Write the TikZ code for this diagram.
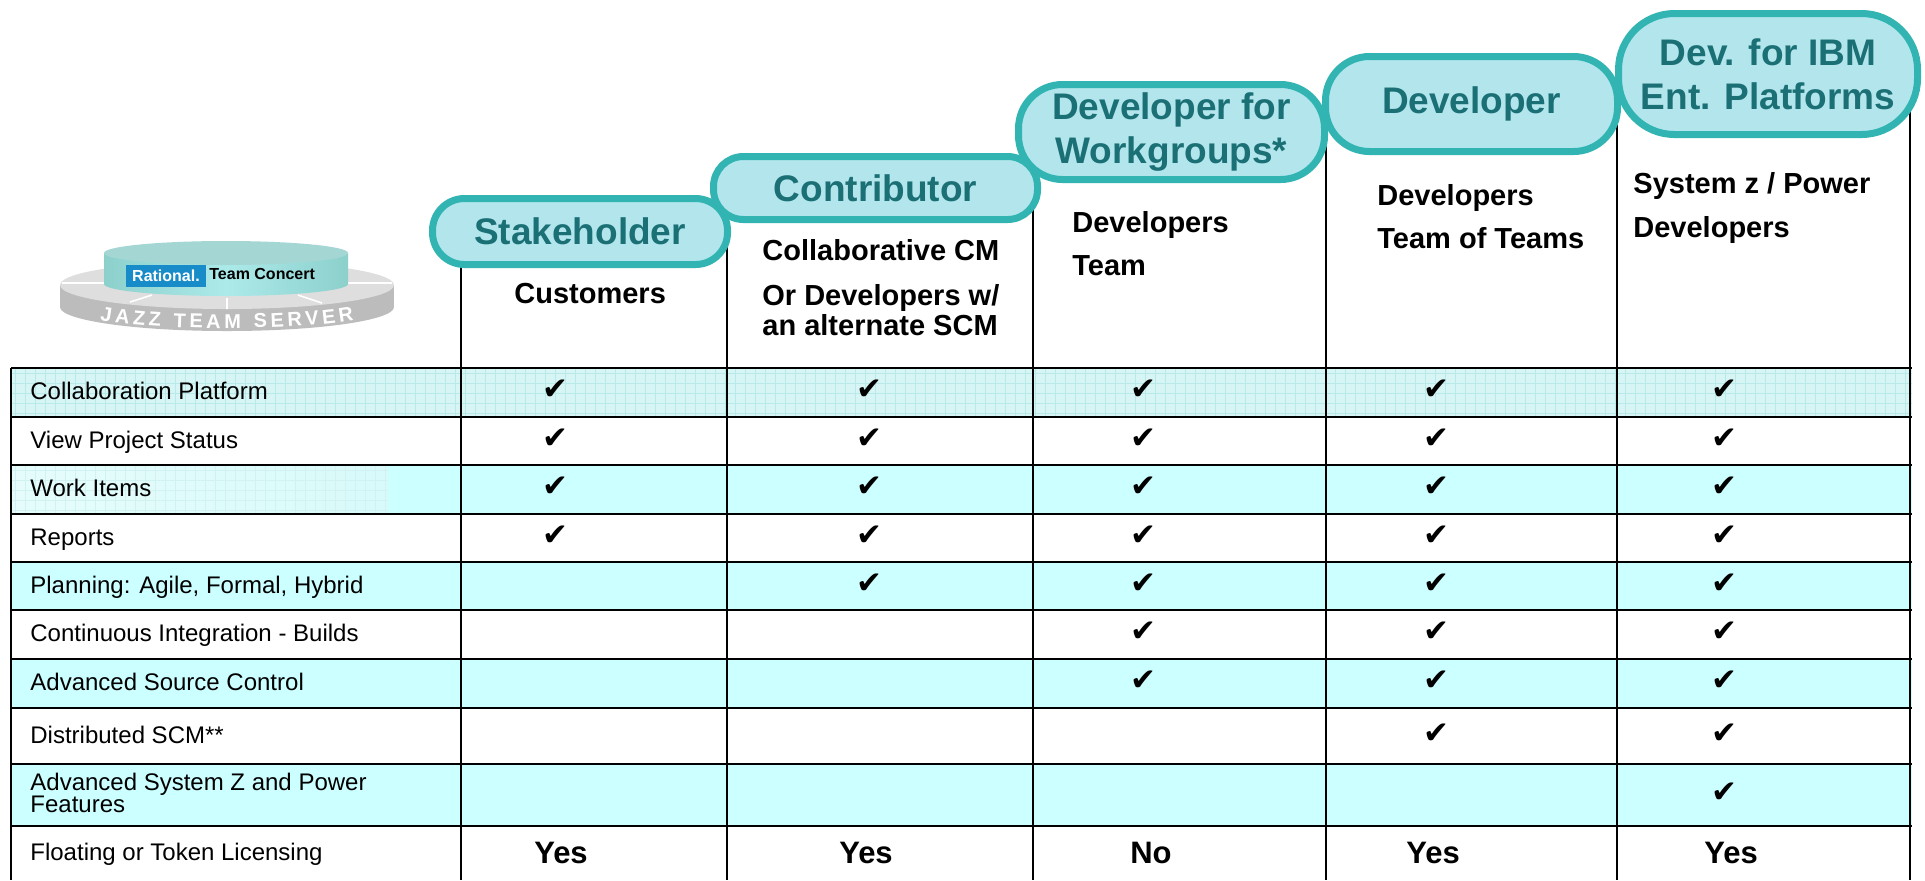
\documentclass[tikz,border=0pt]{standalone}
\usepackage{fontspec}
\setmainfont{Liberation Sans}
\newfontfamily\symfont{DejaVu Sans}
\usetikzlibrary{decorations.text}

\definecolor{rowcyan}{RGB}{204,255,255}
\definecolor{gridbase}{RGB}{216,245,245}
\definecolor{gridline}{RGB}{184,234,234}
\definecolor{workleft}{RGB}{230,252,252}
\definecolor{workright}{RGB}{216,250,250}
\definecolor{workgrid}{RGB}{210,242,242}
\definecolor{bubblefill}{RGB}{178,230,236}
\definecolor{bubbleline}{RGB}{50,180,178}
\definecolor{bubbletext}{RGB}{27,112,118}
\definecolor{disktop}{RGB}{222,222,222}
\definecolor{diskside}{RGB}{188,188,188}
\definecolor{cylside}{RGB}{140,208,204}
\definecolor{cylmid}{RGB}{172,234,234}
\definecolor{cyltop}{RGB}{164,214,212}
\definecolor{rationalblue}{RGB}{24,140,200}

\begin{document}
\begin{tikzpicture}[
  x=0.5pt, y=-0.5pt,
  bubble/.style={
    draw=bubbleline, line width=3.5pt, fill=bubblefill,
    text=bubbletext, font=\fontsize{18.5}{22}\selectfont\bfseries,
    align=center, inner sep=0pt
  },
  sub/.style={
    anchor=base west, inner sep=0pt,
    font=\fontsize{14.5}{17}\selectfont\bfseries
  },
  rowlabel/.style={
    anchor=base west, inner sep=0pt,
    font=\fontsize{12}{11}\selectfont
  },
  tick/.style={inner sep=0pt, font=\symfont\fontsize{15.5}{15.5}\selectfont},
  answer/.style={
    anchor=base, inner sep=0pt,
    font=\fontsize{15.5}{18}\selectfont\bfseries
  },
  rule/.style={line width=1.4pt}
  ]
  \useasboundingbox (0,0) rectangle (1925,880);
  \fill[white] (0,0) rectangle (1925,880);

  % logo
  \fill[diskside] (227,307) ellipse [x radius=167, y radius=24];
  \fill[diskside] (60,285) rectangle (394,307);
  \fill[disktop] (227,285) ellipse [x radius=167, y radius=24];
  \draw[white, line width=0.8pt] (62,283) -- (104,283) (348,283) -- (392,283)
    (130,302) -- (152,295) (227,298) -- (227,309) (298,295) -- (322,303);
  \begin{scope}[color=white]
    \path[decorate, decoration={text along path, text align=fit to path,
      text={|\fontsize{10}{10}\selectfont\bfseries\color{white}|JAZZ TEAM SERVER}}]
      (100,320) .. controls (165,331) and (290,331) .. (354,320);
  \end{scope}
  \shade[left color=cylside, right color=cylside, middle color=cylmid]
    (104,253) -- (104,284) arc[start angle=180, end angle=0, x radius=122, y radius=12]
    -- (348,253) -- cycle;
  \fill[cyltop] (226,253) ellipse [x radius=122, y radius=12];
  \node[fill=rationalblue, text=white, font=\fontsize{8}{8}\selectfont\bfseries,
    minimum width=40pt, minimum height=11pt, inner sep=0pt] (rational) at (166,276) {Rational.};
  \node[anchor=base west, inner sep=0pt, font=\fontsize{8}{8}\selectfont\bfseries]
    (rtc) at (209,279) {Team Concert};

  % rows
  \fill[gridbase] (11,368) rectangle (1912,417);
  \foreach \gx in {15,25,...,1905}
    \draw[gridline, line width=0.5pt] (\gx,368) -- (\gx,417);
  \foreach \gy in {373,383,...,413}
    \draw[gridline, line width=0.5pt] (11,\gy) -- (1912,\gy);
  \foreach \ya/\yb in {465/514, 562/610, 659/708, 764/826}
    \fill[rowcyan] (11,\ya) rectangle (1912,\yb);
  \shade[left color=workleft, right color=workright] (11,465) rectangle (388,514);
  \foreach \gx in {15,25,...,385}
    \draw[workgrid, line width=0.4pt] (\gx,465) -- (\gx,514);
  \foreach \gy in {470,480,...,510}
    \draw[workgrid, line width=0.4pt] (11,\gy) -- (388,\gy);

  \foreach \y in {368,417,465,514,562,610,659,708,764,826}
    \draw[rule] (11,\y) -- (1912,\y);
  \foreach \x/\top in {11/368, 461/240, 727/200, 1033/150, 1326/110, 1617/90, 1910/60}
    \draw[rule] (\x,\top) -- (\x,880);

  % headers
  \node[bubble, minimum width=147.5pt, minimum height=33pt, rounded corners=16pt]
    (stake) at (580,231.5) {Stakeholder};
  \node[bubble, minimum width=162pt, minimum height=31.5pt, rounded corners=15pt]
    (contrib) at (875.5,188) {Contributor};
  \node[bubble, minimum width=153pt, minimum height=47.5pt, rounded corners=22pt]
    (devwg) at (1171.5,132) {Developer for\\Workgroups*};
  \node[bubble, minimum width=146pt, minimum height=47.5pt, rounded corners=22pt]
    (dev) at (1471.5,104) {Developer};
  \node[bubble, minimum width=149.5pt, minimum height=60.5pt, rounded corners=28pt]
    (ibm) at (1768,74) {Dev. for IBM\\Ent. Platforms};

  \node[sub] (cust) at (514,303) {Customers};
  \node[sub] (contriba) at (762,260) {Collaborative CM};
  \node[sub] (contribb) at (762,305) {Or Developers w/};
  \node[sub] (contribc) at (762,335) {an alternate SCM};
  \node[sub] (devwga) at (1072,232) {Developers};
  \node[sub] (devwgb) at (1072,275) {Team};
  \node[sub] (deva) at (1377,205) {Developers};
  \node[sub] (devb) at (1377,248) {Team of Teams};
  \node[sub] (ibma) at (1633,193) {System z / Power};
  \node[sub] (ibmb) at (1633,237) {Developers};

  % features
  \foreach \by/\txt [count=\r] in {399.5/Collaboration Platform, 448/View Project Status,
      496.5/Work Items, 545/Reports, 593/{Planning: Agile, Formal, Hybrid},
      641.5/Continuous Integration - Builds, 690.5/Advanced Source Control,
      743/Distributed SCM**}
    \node[rowlabel] (label\r) at (30,\by) {\txt};
  \node[rowlabel] (labelninea) at (30,790) {Advanced System Z and Power};
  \node[rowlabel] (labelnineb) at (30,812) {Features};
  \node[rowlabel] (labelten) at (30,860.5) {Floating or Token Licensing};

  \foreach \cy/\s [count=\r] in {390/1, 438.5/1, 487/1, 535.5/1, 583.5/2,
      632/3, 681/3, 733.5/4, 792.5/5}
    \foreach \cx [count=\c] in {555, 869, 1143, 1436, 1724}
      {\ifnum\c<\s\relax\else\node[tick] (tick\r\c) at (\cx,\cy) {✔};\fi}

  \foreach \cx/\ans [count=\c] in {561/Yes, 866/Yes, 1151/No, 1433/Yes, 1731/Yes}
    \node[answer] (lic\c) at (\cx,863) {\ans};
\end{tikzpicture}
\end{document}
